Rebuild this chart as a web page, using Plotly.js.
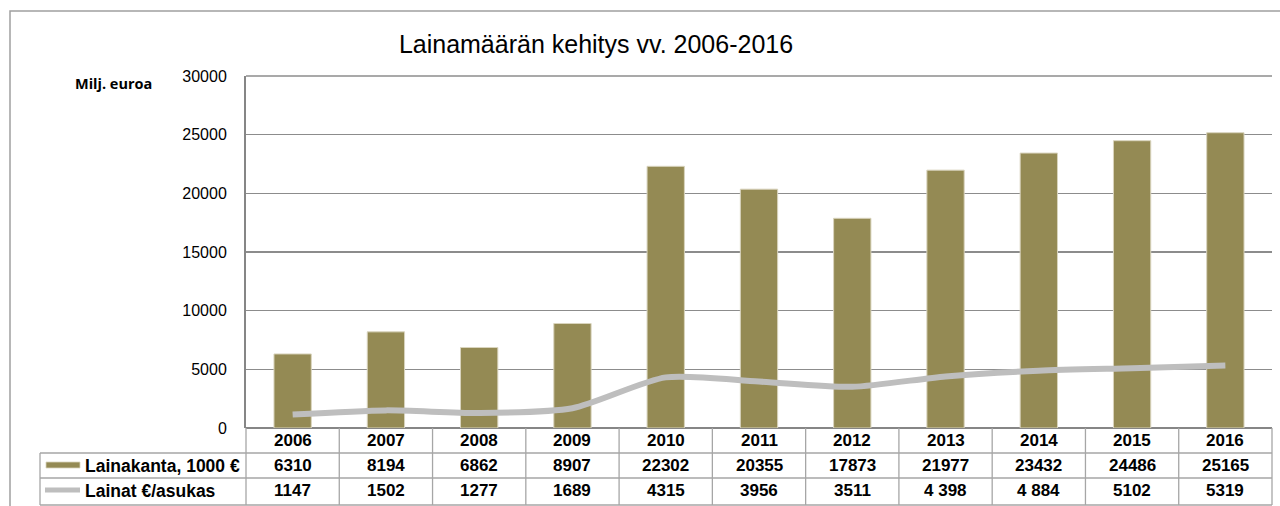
<!DOCTYPE html>
<html><head><meta charset="utf-8">
<script src="https://cdn.plot.ly/plotly-3.0.1.min.js"></script>
<style>html,body{margin:0;padding:0;background:#fff}#chart{width:1280px;height:506px}</style>
</head><body><div id="chart"></div>
<script>
const years = ["2006","2007","2008","2009","2010","2011","2012","2013","2014","2015","2016"];
const loanStock = [6310, 8194, 6862, 8907, 22302, 20355, 17873, 21977, 23432, 24486, 25165];
const perCapita = [1147, 1502, 1277, 1689, 4315, 3956, 3511, 4398, 4884, 5102, 5319];
const loanStockLabels = ["6310","8194","6862","8907","22302","20355","17873","21977","23432","24486","25165"];
const perCapitaLabels = ["1147","1502","1277","1689","4315","3956","3511","4 398","4 884","5102","5319"];
const seriesNames = ["Lainakanta, 1000 €", "Lainat €/asukas"];
const yTicks = [0, 5000, 10000, 15000, 20000, 25000, 30000];

const L = 246, R = 1272, T = 76, B = 428;
const PW = R - L, PH = B - T;
const px = x => (x - L) / PW;
const py = y => (B - y) / PH;
const n = years.length;
const colW = PW / n;
const gridC = '#A6A6A6';
const font = 'Liberation Sans, Arial, sans-serif';

const rowMid = [440.5, 465.5, 490.5];
const rowBot = 505;

const shapes = [];
const line = (x0,y0,x1,y1,c,w) => shapes.push({type:'line', xref:'paper', yref:'paper', x0:px(x0), y0:py(y0), x1:px(x1), y1:py(y1), line:{color:c, width:w}});
// outer frame
shapes.push({type:'rect', xref:'paper', yref:'paper', x0:px(10), y0:py(11), x1:px(1290), y1:py(520), line:{color:'#A0A0A0', width:1.5}, fillcolor:'rgba(0,0,0,0)'});
// top gridline
line(L, T, R, T, '#8C8C8C', 1.5);
// table horizontal lines
line(40, 453, R, 453, gridC, 1.3);
line(40, 478, R, 478, gridC, 1.3);
line(40, rowBot, R, rowBot, gridC, 1.3);
// table vertical lines
line(40, 453, 40, rowBot, gridC, 1.3);
for (let i = 0; i <= n; i++) {
  const x = L + i * colW;
  line(x, 428, x, rowBot, gridC, 1.3);
}
// legend keys
shapes.push({type:'rect', xref:'paper', yref:'paper', x0:px(46), x1:px(80), y0:py(462), y1:py(468), fillcolor:'#948A54', line:{color:'#D9D4BE', width:0.8}});
shapes.push({type:'line', xref:'paper', yref:'paper', x0:px(45), x1:px(80), y0:py(490), y1:py(490), line:{color:'#BEBEBE', width:5}});

const annotations = [];
const tf = {family: font, size: 17, color: '#000'};
years.forEach((yr, i) => {
  const cx = px(L + (i + 0.5) * colW);
  annotations.push({xref:'paper', yref:'paper', x:cx, y:py(rowMid[0]), text:'<b>'+yr+'</b>', showarrow:false, font:tf, xanchor:'center', yanchor:'middle'});
  annotations.push({xref:'paper', yref:'paper', x:cx, y:py(rowMid[1]), text:'<b>'+loanStockLabels[i]+'</b>', showarrow:false, font:tf, xanchor:'center', yanchor:'middle'});
  annotations.push({xref:'paper', yref:'paper', x:cx, y:py(rowMid[2]), text:'<b>'+perCapitaLabels[i]+'</b>', showarrow:false, font:tf, xanchor:'center', yanchor:'middle'});
});
annotations.push({xref:'paper', yref:'paper', x:px(83), y:py(rowMid[1]), xanchor:'left', yanchor:'middle', text:'<b>'+seriesNames[0]+'</b>', showarrow:false, font:{family:font, size:17.5, color:'#000'}});
annotations.push({xref:'paper', yref:'paper', x:px(83), y:py(rowMid[2]), xanchor:'left', yanchor:'middle', text:'<b>'+seriesNames[1]+'</b>', showarrow:false, font:{family:font, size:17.5, color:'#000'}});
annotations.push({xref:'paper', yref:'paper', x:px(113), y:py(83), xanchor:'center', yanchor:'middle', text:'<b>Milj. euroa</b>', showarrow:false, font:{family:'Open Sans, sans-serif', size:14.5, color:'#000'}});

const data = [
  {type:'bar', name:seriesNames[0], x:years, y:loanStock, marker:{color:'#948A54', line:{color:'#D9D4BE', width:1}}},
  {type:'scatter', mode:'lines', name:seriesNames[1], x:years, y:perCapita, line:{color:'#BEBEBE', width:6, shape:'spline', smoothing:0.7}}
];

const layout = {
  width:1280, height:506,
  margin:{l:L, r:1280-R, t:T, b:506-B, pad:0},
  paper_bgcolor:'#fff', plot_bgcolor:'#fff',
  showlegend:false,
  bargap:0.6,
  title:{text:'Lainamäärän kehitys vv. 2006-2016', xref:'container', yref:'container', x:596/1280, y:1-44/506, xanchor:'center', yanchor:'middle', font:{family:font, size:25, color:'#000'}},
  xaxis:{type:'category', range:[-0.5, n-0.5], showticklabels:false, showgrid:false, zeroline:false, showline:false, ticks:''},
  yaxis:{range:[0,30000], tickvals:yTicks, ticktext:yTicks.map(String), showgrid:true, gridcolor:'#8C8C8C', gridwidth:1.5, zeroline:true, zerolinecolor:'#868686', zerolinewidth:2, showline:true, linecolor:'#868686', linewidth:2, ticks:'', ticklabelstandoff:14, tickfont:{family:font, size:16, color:'#000'}},
  shapes, annotations
};
Plotly.newPlot('chart', data, layout, {displayModeBar:false, staticPlot:true});
</script></body></html>
